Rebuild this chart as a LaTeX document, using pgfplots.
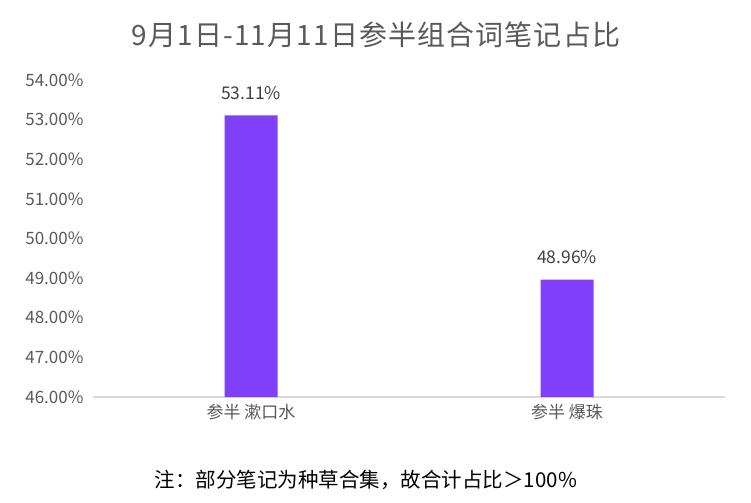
\documentclass[border=0pt]{standalone}
\usepackage{fontspec}
\setmainfont{Noto Sans CJK SC}
\usepackage{pgfplots}
\pgfplotsset{compat=1.18}
\definecolor{barpurple}{HTML}{8040FA}
\definecolor{labelgray}{HTML}{595959}
\definecolor{axisgray}{HTML}{D9D9D9}
\begin{document}
\begin{tikzpicture}[x=1bp,y=1bp]
\useasboundingbox (0,0) rectangle (751,-503);
\node[text=labelgray, font=\fontsize{28bp}{32bp}\selectfont\addfontfeatures{LetterSpace=4}] at (376,-35) {9月1日-11月11日参半组合词笔记占比};
\begin{axis}[
  at={(93bp,-397bp)}, anchor=south west,
  scale only axis, width=632bp, height=317bp,
  ybar, bar width=53bp,
  xmin=-0.5, xmax=1.5, ymin=46, ymax=54,
  xtick=data, xticklabels={参半 漱口水, 参半 爆珠},
  ytick={46,47,...,54},
  yticklabel={\pgfmathprintnumber[fixed,zerofill,precision=2]{\tick}\%},
  /pgf/number format/assume math mode=true,
  axis x line*=bottom, axis y line*=left,
  x axis line style={axisgray, line width=1.5bp, -},
  y axis line style={draw=none},
  major tick length=0pt,
  ticklabel style={text=labelgray, font=\fontsize{17bp}{20bp}\selectfont},
  yticklabel style={xshift=-6bp},
  xticklabel style={yshift=-4bp},
  clip=false,
  nodes near coords={\pgfmathprintnumber[fixed,zerofill,precision=2]{\pgfplotspointmeta}\%},
  nodes near coords style={text=black!75, font=\fontsize{17.5bp}{20bp}\selectfont, yshift=12bp},
]
\addplot[fill=barpurple, draw=none] coordinates {(0,53.11) (1,48.96)};
\end{axis}
\node[text=black, font=\fontsize{20.5bp}{24bp}\selectfont] at (366,-480) {注：部分笔记为种草合集，故合计占比＞100\%};
\end{tikzpicture}
\end{document}
